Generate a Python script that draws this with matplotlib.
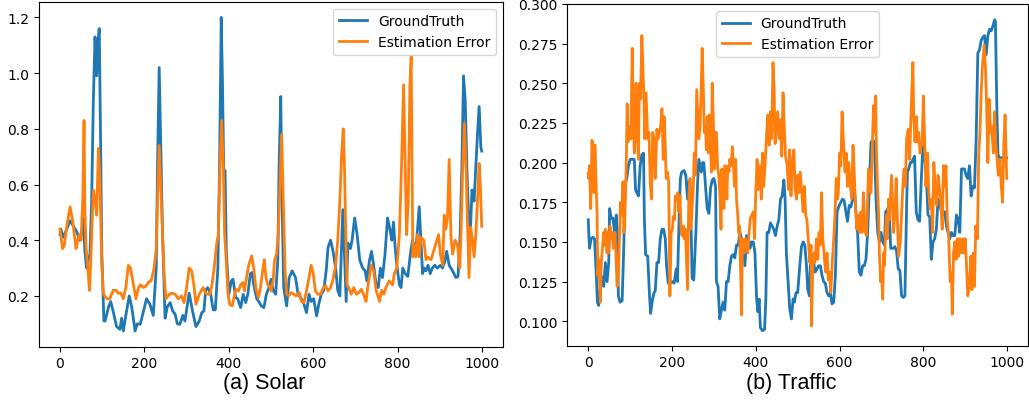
import matplotlib
matplotlib.use("Agg")
import matplotlib.pyplot as plt

# ---------------- Solar ----------------
solar_gt_t = [0, 2, 8, 16, 24, 32, 40, 46, 51, 55, 59, 63, 67, 71, 75, 79, 83, 87, 90, 93, 96, 99,
              104, 107, 115, 120, 126, 134, 142, 146, 150, 156, 164, 170, 178, 183, 190, 198, 205, 213,
              221, 228, 231, 235, 239, 243, 249, 254, 261, 267, 273, 278, 284, 291, 296, 306, 314, 322,
              330, 336, 341, 345, 350, 357, 363, 368, 374, 378, 382, 385, 388, 391, 394, 400, 406, 410,
              416, 421, 428, 434, 440, 445, 451, 455, 459, 466, 471, 477, 483, 489, 495, 500, 505, 511,
              516, 519, 523, 526, 530, 537, 543, 550, 558, 564, 570, 576, 584, 590, 595, 601, 608, 613,
              619, 625, 631, 635, 641, 647, 653, 658, 663, 666, 670, 674, 678, 682, 688, 692, 698, 704,
              710, 717, 723, 727, 733, 738, 743, 749, 754, 759, 764, 770, 776, 782, 786, 790, 794, 798,
              804, 808, 812, 818, 824, 830, 835, 840, 845, 851, 855, 859, 863, 867, 872, 877, 882, 888,
              894, 901, 906, 911, 916, 922, 930, 938, 943, 948, 952, 956, 960, 964, 968, 972, 976, 981,
              985, 989, 993, 997, 999]
solar_gt = [0.42, 0.44, 0.41, 0.44, 0.47, 0.45, 0.43, 0.40, 0.42, 0.48, 0.36, 0.30, 0.33, 0.35, 0.54,
            0.90, 1.13, 0.99, 1.11, 1.16, 0.78, 0.36, 0.11, 0.11, 0.16, 0.18, 0.145, 0.09, 0.08, 0.12,
            0.074, 0.13, 0.20, 0.16, 0.074, 0.10, 0.098, 0.146, 0.19, 0.17, 0.13, 0.30, 0.66, 1.02, 0.72,
            0.42, 0.12, 0.16, 0.176, 0.146, 0.134, 0.10, 0.098, 0.13, 0.11, 0.21, 0.146, 0.09, 0.11, 0.14,
            0.146, 0.22, 0.23, 0.206, 0.15, 0.15, 0.30, 0.66, 1.20, 0.96, 0.64, 0.65, 0.36, 0.206, 0.254,
            0.26, 0.194, 0.19, 0.158, 0.206, 0.176, 0.206, 0.28, 0.284, 0.24, 0.19, 0.18, 0.164, 0.158,
            0.206, 0.23, 0.26, 0.22, 0.206, 0.33, 0.66, 0.916, 0.54, 0.23, 0.164, 0.266, 0.29, 0.266,
            0.206, 0.194, 0.18, 0.14, 0.206, 0.18, 0.19, 0.128, 0.17, 0.206, 0.22, 0.296, 0.374, 0.40,
            0.36, 0.30, 0.22, 0.20, 0.33, 0.51, 0.35, 0.18, 0.39, 0.37, 0.40, 0.48, 0.42, 0.33, 0.30,
            0.29, 0.254, 0.326, 0.36, 0.31, 0.24, 0.23, 0.30, 0.266, 0.35, 0.48, 0.435, 0.40, 0.465,
            0.374, 0.31, 0.24, 0.23, 0.30, 0.28, 0.27, 0.35, 0.40, 0.36, 0.40, 0.52, 0.40, 0.28, 0.30,
            0.29, 0.31, 0.28, 0.30, 0.31, 0.30, 0.31, 0.30, 0.32, 0.36, 0.31, 0.29, 0.266, 0.27, 0.42,
            0.66, 0.99, 0.90, 0.66, 0.48, 0.42, 0.58, 0.54, 0.66, 0.78, 0.88, 0.735, 0.72]

solar_err_t = [0, 6, 10, 16, 24, 30, 38, 42, 46, 50, 54, 57, 59, 62, 66, 70, 73, 79, 83, 87, 91, 94, 99,
               103, 111, 118, 126, 133, 138, 144, 150, 156, 162, 167, 174, 180, 186, 191, 198, 204, 210,
               216, 223, 228, 231, 235, 239, 243, 247, 251, 259, 265, 273, 280, 288, 294, 300, 306, 312,
               318, 322, 330, 339, 345, 350, 355, 360, 366, 371, 375, 379, 383, 387, 390, 393, 398, 402,
               408, 412, 417, 423, 428, 433, 437, 442, 447, 454, 459, 464, 470, 475, 481, 484, 488, 492,
               496, 500, 505, 508, 513, 517, 521, 525, 529, 533, 537, 542, 548, 554, 560, 567, 572, 578,
               584, 590, 595, 600, 605, 611, 617, 624, 629, 635, 641, 646, 653, 658, 663, 667, 671, 674,
               677, 680, 684, 690, 696, 702, 708, 714, 719, 725, 729, 737, 743, 749, 757, 762, 767, 772,
               780, 788, 792, 798, 804, 809, 814, 817, 821, 825, 829, 832, 834, 836, 840, 843, 847, 851,
               855, 862, 867, 871, 879, 887, 893, 897, 901, 907, 910, 914, 918, 922, 926, 930, 936, 942,
               947, 950, 954, 958, 962, 965, 969, 973, 977, 981, 985, 989, 993, 996, 999]
solar_err = [0.44, 0.37, 0.38, 0.45, 0.52, 0.47, 0.37, 0.40, 0.42, 0.40, 0.55, 0.83, 0.50, 0.37, 0.30,
             0.22, 0.33, 0.58, 0.55, 0.49, 0.73, 0.65, 0.31, 0.206, 0.19, 0.19, 0.22, 0.22, 0.21, 0.21,
             0.19, 0.23, 0.31, 0.30, 0.24, 0.19, 0.23, 0.24, 0.23, 0.236, 0.25, 0.254, 0.30, 0.37, 0.54,
             0.74, 0.59, 0.42, 0.27, 0.19, 0.206, 0.21, 0.206, 0.19, 0.20, 0.176, 0.23, 0.30, 0.29, 0.23,
             0.17, 0.206, 0.23, 0.21, 0.206, 0.206, 0.24, 0.31, 0.386, 0.42, 0.66, 0.83, 0.66, 0.42, 0.35,
             0.206, 0.17, 0.164, 0.194, 0.224, 0.218, 0.24, 0.248, 0.218, 0.266, 0.31, 0.344, 0.30, 0.23,
             0.194, 0.23, 0.30, 0.33, 0.266, 0.24, 0.236, 0.218, 0.254, 0.326, 0.35, 0.42, 0.59, 0.78,
             0.54, 0.30, 0.206, 0.20, 0.212, 0.206, 0.20, 0.212, 0.18, 0.176, 0.218, 0.266, 0.31, 0.28,
             0.218, 0.206, 0.206, 0.23, 0.236, 0.218, 0.23, 0.254, 0.31, 0.40, 0.54, 0.70, 0.80, 0.66,
             0.42, 0.24, 0.23, 0.206, 0.23, 0.206, 0.212, 0.224, 0.206, 0.18, 0.23, 0.31, 0.29, 0.22,
             0.18, 0.22, 0.206, 0.23, 0.254, 0.24, 0.28, 0.30, 0.42, 0.66, 0.958, 0.72, 0.42, 0.54, 0.958,
             1.06, 0.66, 0.34, 0.38, 0.34, 0.42, 0.34, 0.41, 0.40, 0.33, 0.34, 0.33, 0.37, 0.40, 0.42,
             0.35, 0.31, 0.49, 0.44, 0.48, 0.69, 0.42, 0.35, 0.40, 0.38, 0.30, 0.42, 0.66, 0.82, 0.66,
             0.48, 0.266, 0.447, 0.40, 0.34, 0.42, 0.54, 0.675, 0.59, 0.45]

# ---------------- Traffic ----------------
traffic_gt_t = [0, 3, 7, 11, 15, 19, 22, 25, 29, 33, 37, 41, 45, 49, 51, 55, 59, 63, 67, 69, 72, 76, 81,
                85, 88, 92, 96, 100, 104, 110, 113, 116, 120, 124, 128, 132, 134, 137, 142, 146, 149, 153,
                157, 160, 164, 168, 172, 176, 180, 184, 187, 191, 195, 200, 205, 210, 213, 218, 220, 223,
                229, 233, 237, 240, 243, 245, 248, 252, 257, 261, 264, 267, 270, 273, 276, 280, 284, 288,
                292, 296, 300, 304, 306, 310, 314, 318, 322, 326, 330, 334, 338, 342, 346, 350, 354, 358,
                362, 366, 370, 374, 378, 382, 386, 390, 394, 398, 402, 405, 408, 411, 416, 421, 424, 427,
                431, 435, 439, 443, 447, 451, 455, 459, 463, 467, 470, 473, 477, 481, 485, 489, 492, 496,
                500, 505, 509, 513, 517, 521, 524, 528, 530, 534, 538, 542, 546, 550, 554, 558, 562, 566,
                570, 574, 578, 582, 586, 590, 594, 599, 603, 607, 611, 615, 619, 623, 627, 631, 635, 639,
                643, 647, 651, 655, 659, 663, 667, 671, 675, 679, 683, 687, 691, 695, 699, 703, 707, 710,
                714, 718, 722, 728, 732, 736, 740, 744, 748, 752, 756, 758, 760, 762, 765, 769, 772, 775,
                779, 783, 787, 791, 795, 799, 803, 807, 811, 815, 819, 823, 827, 831, 835, 839, 843, 847,
                851, 855, 859, 863, 867, 871, 875, 879, 883, 887, 891, 895, 898, 902, 906, 910, 914, 918,
                922, 926, 930, 934, 938, 942, 946, 950, 954, 958, 962, 966, 970, 972, 975, 978, 982, 986,
                990, 994, 999]
traffic_gt = [0.164, 0.146, 0.152, 0.153, 0.152, 0.131, 0.112, 0.110, 0.122, 0.128, 0.122, 0.137, 0.125,
              0.137, 0.171, 0.165, 0.165, 0.156, 0.167, 0.156, 0.116, 0.112, 0.113, 0.148, 0.186, 0.190,
              0.198, 0.202, 0.202, 0.202, 0.183, 0.181, 0.179, 0.198, 0.205, 0.206, 0.165, 0.142, 0.141,
              0.118, 0.105, 0.113, 0.118, 0.119, 0.137, 0.137, 0.152, 0.158, 0.158, 0.152, 0.135, 0.124,
              0.124, 0.125, 0.124, 0.133, 0.125, 0.175, 0.190, 0.194, 0.195, 0.192, 0.177, 0.188, 0.187,
              0.167, 0.127, 0.126, 0.156, 0.187, 0.202, 0.198, 0.194, 0.200, 0.200, 0.185, 0.171, 0.168,
              0.184, 0.189, 0.190, 0.185, 0.125, 0.122, 0.1015, 0.107, 0.112, 0.107, 0.125, 0.125, 0.135,
              0.141, 0.142, 0.140, 0.148, 0.148, 0.156, 0.152, 0.150, 0.135, 0.154, 0.153, 0.146, 0.150,
              0.150, 0.143, 0.114, 0.106, 0.114, 0.096, 0.094, 0.095, 0.114, 0.156, 0.156, 0.162, 0.160,
              0.158, 0.154, 0.160, 0.164, 0.177, 0.179, 0.189, 0.177, 0.143, 0.125, 0.108, 0.1015, 0.114,
              0.112, 0.118, 0.118, 0.135, 0.147, 0.150, 0.148, 0.135, 0.120, 0.116, 0.135, 0.139, 0.137,
              0.131, 0.133, 0.135, 0.135, 0.129, 0.125, 0.124, 0.118, 0.116, 0.118, 0.111, 0.112, 0.129,
              0.169, 0.173, 0.175, 0.177, 0.176, 0.169, 0.163, 0.173, 0.172, 0.177, 0.185, 0.169, 0.156,
              0.131, 0.129, 0.135, 0.135, 0.139, 0.156, 0.185, 0.213, 0.214, 0.213, 0.177, 0.156, 0.150,
              0.156, 0.150, 0.148, 0.169, 0.170, 0.173, 0.146, 0.146, 0.147, 0.144, 0.133, 0.132, 0.116,
              0.115, 0.116, 0.144, 0.173, 0.194, 0.196, 0.200, 0.200, 0.202, 0.204, 0.169, 0.164, 0.163,
              0.189, 0.211, 0.204, 0.192, 0.167, 0.166, 0.139, 0.150, 0.152, 0.158, 0.177, 0.175, 0.169,
              0.167, 0.169, 0.160, 0.156, 0.152, 0.156, 0.154, 0.154, 0.167, 0.164, 0.156, 0.196, 0.196,
              0.196, 0.192, 0.190, 0.198, 0.179, 0.185, 0.184, 0.215, 0.269, 0.271, 0.277, 0.279, 0.280,
              0.268, 0.280, 0.284, 0.283, 0.286, 0.290, 0.289, 0.240, 0.205, 0.203, 0.203, 0.203, 0.203,
              0.203]

traffic_err_t = [0, 1, 3, 6, 9, 11, 14, 16, 18, 21, 23, 25, 29, 31, 33, 37, 39, 41, 45, 47, 49, 52, 55,
                 57, 60, 64, 67, 69, 72, 75, 77, 80, 83, 85, 87, 91, 93, 95, 98, 102, 105, 107, 110, 112,
                 114, 117, 120, 122, 125, 128, 130, 133, 135, 138, 142, 145, 148, 151, 154, 157, 160, 164,
                 167, 170, 173, 176, 179, 181, 183, 186, 189, 192, 195, 198, 201, 203, 206, 208, 211, 214,
                 216, 219, 222, 224, 227, 229, 232, 235, 237, 240, 243, 245, 248, 251, 253, 256, 259, 261,
                 264, 267, 269, 272, 275, 277, 280, 282, 284, 287, 289, 291, 294, 296, 299, 301, 303, 306,
                 309, 311, 314, 317, 319, 322, 324, 326, 329, 331, 333, 336, 338, 341, 344, 346, 349, 352,
                 354, 357, 359, 361, 364, 366, 368, 372, 375, 378, 381, 384, 387, 391, 394, 397, 400, 403,
                 406, 410, 413, 416, 419, 422, 426, 429, 432, 435, 438, 441, 444, 446, 449, 452, 456, 459,
                 462, 465, 468, 471, 475, 478, 481, 484, 487, 491, 494, 497, 500, 503, 506, 510, 513, 516,
                 519, 522, 525, 529, 532, 533, 536, 538, 541, 545, 548, 551, 554, 557, 560, 564, 567, 570,
                 573, 576, 579, 583, 586, 589, 592, 595, 597, 600, 603, 606, 610, 613, 616, 619, 622, 626,
                 629, 632, 635, 638, 641, 645, 648, 651, 654, 657, 660, 664, 667, 669, 672, 675, 678, 681,
                 684, 686, 688, 691, 693, 695, 698, 700, 703, 705, 707, 710, 712, 714, 717, 719, 722, 724,
                 726, 729, 732, 735, 738, 741, 745, 748, 751, 754, 757, 760, 764, 767, 770, 772, 775, 777,
                 780, 783, 786, 789, 792, 795, 797, 800, 803, 806, 810, 813, 816, 819, 822, 825, 829, 832,
                 835, 838, 841, 845, 848, 851, 854, 857, 860, 864, 867, 869, 872, 875, 878, 881, 884, 887,
                 891, 894, 897, 900, 903, 906, 910, 913, 916, 919, 922, 925, 929, 932, 935, 938, 941, 945,
                 948, 951, 954, 957, 960, 963, 967, 970, 973, 976, 979, 983, 986, 989, 992, 995, 999]
traffic_err = [0.193, 0.190, 0.198, 0.171, 0.214, 0.208, 0.181, 0.211, 0.194, 0.169, 0.129, 0.139, 0.112,
               0.135, 0.143, 0.156, 0.148, 0.158, 0.143, 0.156, 0.143, 0.160, 0.152, 0.156, 0.146, 0.156,
               0.135, 0.122, 0.129, 0.156, 0.175, 0.167, 0.188, 0.156, 0.160, 0.202, 0.237, 0.213, 0.223,
               0.215, 0.272, 0.232, 0.206, 0.219, 0.250, 0.218, 0.202, 0.250, 0.240, 0.280, 0.265, 0.240,
               0.215, 0.244, 0.215, 0.219, 0.188, 0.177, 0.219, 0.215, 0.190, 0.221, 0.215, 0.219, 0.223,
               0.234, 0.202, 0.229, 0.219, 0.190, 0.194, 0.188, 0.116, 0.156, 0.158, 0.166, 0.164, 0.179,
               0.177, 0.181, 0.169, 0.179, 0.156, 0.154, 0.160, 0.152, 0.158, 0.135, 0.120, 0.177, 0.190,
               0.158, 0.171, 0.185, 0.206, 0.192, 0.246, 0.234, 0.215, 0.223, 0.240, 0.272, 0.244, 0.219,
               0.223, 0.208, 0.229, 0.206, 0.230, 0.219, 0.194, 0.250, 0.223, 0.196, 0.219, 0.219, 0.196,
               0.194, 0.181, 0.158, 0.196, 0.177, 0.171, 0.198, 0.196, 0.177, 0.198, 0.194, 0.202, 0.198,
               0.210, 0.202, 0.185, 0.202, 0.177, 0.167, 0.156, 0.160, 0.129, 0.104, 0.152, 0.143, 0.152,
               0.148, 0.143, 0.156, 0.165, 0.167, 0.169, 0.152, 0.181, 0.202, 0.183, 0.198, 0.177, 0.206,
               0.185, 0.198, 0.219, 0.230, 0.211, 0.232, 0.215, 0.263, 0.244, 0.212, 0.221, 0.232, 0.215,
               0.227, 0.204, 0.244, 0.223, 0.204, 0.198, 0.183, 0.208, 0.179, 0.198, 0.208, 0.183, 0.177,
               0.192, 0.181, 0.194, 0.181, 0.169, 0.185, 0.167, 0.164, 0.152, 0.137, 0.148, 0.097, 0.135,
               0.143, 0.137, 0.152, 0.139, 0.156, 0.148, 0.181, 0.152, 0.139, 0.131, 0.143, 0.126, 0.131,
               0.118, 0.139, 0.152, 0.167, 0.190, 0.177, 0.181, 0.206, 0.198, 0.232, 0.209, 0.194, 0.206,
               0.185, 0.200, 0.185, 0.177, 0.211, 0.194, 0.173, 0.158, 0.167, 0.156, 0.169, 0.156, 0.181,
               0.158, 0.154, 0.177, 0.196, 0.185, 0.181, 0.208, 0.236, 0.219, 0.242, 0.208, 0.181, 0.169,
               0.143, 0.125, 0.131, 0.114, 0.143, 0.135, 0.156, 0.167, 0.152, 0.177, 0.164, 0.181, 0.192,
               0.177, 0.156, 0.167, 0.190, 0.164, 0.141, 0.150, 0.167, 0.185, 0.196, 0.185, 0.215, 0.221,
               0.202, 0.227, 0.242, 0.263, 0.229, 0.213, 0.229, 0.213, 0.219, 0.206, 0.211, 0.211, 0.242,
               0.215, 0.185, 0.206, 0.181, 0.171, 0.177, 0.156, 0.200, 0.181, 0.173, 0.192, 0.185, 0.177,
               0.158, 0.198, 0.185, 0.198, 0.164, 0.156, 0.125, 0.131, 0.1045, 0.143, 0.150, 0.139, 0.152,
               0.141, 0.152, 0.143, 0.152, 0.143, 0.152, 0.135, 0.116, 0.122, 0.141, 0.120, 0.143, 0.122,
               0.160, 0.152, 0.2045, 0.219, 0.244, 0.261, 0.274, 0.261, 0.236, 0.200, 0.240, 0.219, 0.223,
               0.206, 0.232, 0.211, 0.202, 0.192, 0.202, 0.185, 0.175, 0.211, 0.230, 0.190]

series_labels = ["GroundTruth", "Estimation Error"]
panel_titles = ["(a) Solar", "(b) Traffic"]

fig = plt.figure(figsize=(10.29, 4.06), dpi=100)
ax1 = fig.add_axes([0.0378, 0.1436, 0.4508, 0.8497])
ax2 = fig.add_axes([0.5513, 0.146, 0.4474, 0.842])

ax1.plot(solar_gt_t, solar_gt, color="#1f77b4", lw=2.0, label=series_labels[0])
ax1.plot(solar_err_t, solar_err, color="#ff7f0e", lw=2.0, label=series_labels[1])
ax1.set_xticks([0, 200, 400, 600, 800, 1000])
ax1.legend(loc="upper right", fontsize=10)

ax2.plot(traffic_gt_t, traffic_gt, color="#1f77b4", lw=2.0, label=series_labels[0])
ax2.plot(traffic_err_t, traffic_err, color="#ff7f0e", lw=2.0, label=series_labels[1])
ax2.set_xticks([0, 200, 400, 600, 800, 1000])
ax2.set_ylim(0.0846, 0.300)
ax2.legend(loc="upper center", fontsize=10)

for ax, title in zip([ax1, ax2], panel_titles):
    pos = ax.get_position()
    fig.text((pos.x0 + pos.x1) / 2 - 0.006, 22 / 406, title, ha="center", va="center",
             fontsize=15.5, family=["Liberation Sans", "DejaVu Sans"])

fig.savefig("out.png", dpi=100)
